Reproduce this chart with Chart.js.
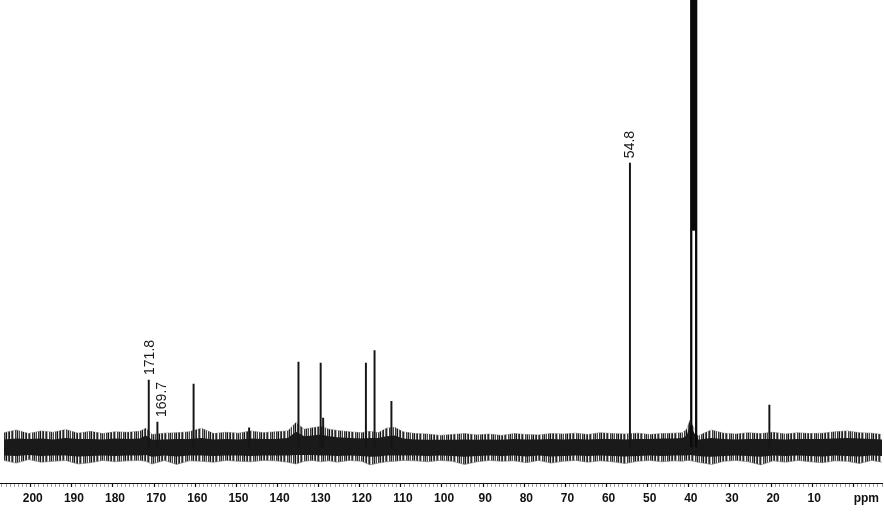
<!DOCTYPE html>
<html>
<head>
<meta charset="utf-8">
<title>13C NMR</title>
<script src="https://cdn.jsdelivr.net/npm/chart.js@4.4.1/dist/chart.umd.min.js"></script>
<style>
  html, body { margin: 0; padding: 0; background: #fff; }
  .wrap { position: relative; width: 884px; height: 512px; }
</style>
</head>
<body>
<div class="wrap"><canvas id="spectrum"></canvas></div>
<script>
// Picos (ppm) y alturas relativas (línea base = 0)
const peakPpm = [171.8, 169.7, 160.9, 147.4, 135.4, 130.0, 129.4, 119.0, 116.9, 112.8, 54.8, 20.9];
const peakHeights = [15.0, 5.6, 14.1, 4.3, 19.0, 18.8, 6.5, 18.8, 21.6, 10.2, 63.5, 9.4];

// Disolvente (DMSO-d6), se sale del gráfico por arriba
const dmsoPpm = [39.9, 39.6, 39.3, 39.0, 38.7];
const dmsoLow = [0, 48.5, 48.5, 48.5, 0];
const dmsoHigh = [150, 150, 150, 150, 150];

// Etiquetas de los picos
const labelPpm = [171.8, 169.7, 54.8];
const labelText = ['171.8', '169.7', '54.8'];

const noisePpm = [
  207, 204, 201, 198, 195, 192, 189, 186, 183, 180,
  177, 174, 172.5, 171, 168, 165, 162, 159, 156, 153,
  150, 147, 144, 141, 138, 136, 134, 132, 130, 128,
  126, 123, 120, 118, 116, 114, 112, 110, 107, 104,
  101, 98, 95, 92, 89, 86, 83, 80, 77, 74,
  71, 68, 65, 62, 59, 56, 53, 50, 47, 44,
  42, 41, 40.2, 38.3, 37, 35, 32, 29, 26, 23,
  20, 17, 14, 11, 8, 5, 2, -1, -4, -6.5
];
const noiseHigh = [
  3.2, 3.8, 3.0, 3.6, 3.3, 3.9, 3.1, 3.5, 3.0, 3.4,
  3.3, 3.5, 4.2, 2.8, 3.1, 3.2, 3.4, 4.2, 3.0, 3.3,
  3.1, 3.6, 3.2, 3.4, 3.6, 5.5, 4.0, 4.3, 4.6, 4.0,
  3.7, 3.4, 3.2, 3.5, 3.2, 4.2, 4.4, 3.4, 3.0, 2.9,
  2.6, 2.8, 3.0, 2.7, 2.9, 2.6, 3.0, 2.8, 2.7, 3.0,
  2.9, 3.1, 2.8, 3.2, 3.0, 2.9, 3.1, 2.8, 3.0, 3.1,
  3.2, 4.0, 6.0, 2.4, 3.0, 3.8, 3.1, 2.9, 3.2, 3.0,
  3.3, 2.9, 3.2, 3.0, 3.1, 3.4, 3.6, 3.2, 3.1, 2.8
];
const noiseLow = [
  -3.0, -3.6, -2.8, -3.4, -3.2, -3.0, -3.8, -3.5, -3.0, -3.3,
  -3.1, -3.0, -3.2, -3.8, -3.0, -3.9, -3.1, -3.2, -3.4, -3.0,
  -3.2, -3.3, -3.0, -3.1, -3.4, -3.8, -3.2, -3.0, -3.3, -3.1,
  -3.4, -3.0, -3.2, -4.0, -3.6, -3.3, -3.2, -3.0, -3.1, -3.3,
  -3.0, -3.2, -3.9, -3.3, -3.0, -3.2, -3.1, -3.5, -3.0, -3.6,
  -3.2, -3.0, -3.4, -3.1, -3.3, -3.7, -3.2, -3.0, -3.3, -3.1,
  -3.2, -3.0, -3.0, -3.4, -3.6, -3.9, -3.2, -3.0, -3.3, -4.0,
  -3.1, -3.4, -3.0, -3.3, -3.5, -3.1, -3.2, -3.7, -3.0, -3.4
];
const noiseCoreHigh = [
  1.7, 1.9, 1.8, 1.9, 1.7, 2.0, 1.8, 1.8, 1.7, 1.9,
  1.8, 1.9, 2.6, 1.6, 1.7, 1.8, 1.8, 2.0, 1.7, 1.8,
  1.7, 1.9, 1.8, 1.8, 2.0, 3.4, 2.4, 2.6, 2.8, 2.4,
  2.2, 2.0, 1.9, 2.0, 2.0, 2.4, 2.6, 1.9, 1.7, 1.6,
  1.6, 1.6, 1.7, 1.6, 1.7, 1.6, 1.8, 1.7, 1.7, 1.8,
  1.7, 1.8, 1.7, 1.8, 1.8, 1.7, 1.8, 1.8, 1.9, 1.9,
  2.0, 2.6, 5.0, 1.6, 1.8, 2.0, 1.8, 1.7, 1.8, 1.8,
  1.8, 1.7, 1.8, 1.8, 1.8, 1.9, 2.0, 1.9, 1.8, 1.7
];
const noiseCoreLow = [
  -1.9, -2.0, -1.8, -2.0, -1.9, -1.9, -2.1, -2.0, -1.9, -2.0,
  -1.9, -1.9, -1.8, -2.2, -1.9, -2.1, -1.9, -1.9, -2.0, -1.9,
  -1.9, -2.0, -1.9, -1.9, -1.9, -1.8, -1.8, -1.8, -1.9, -1.9,
  -2.0, -1.9, -2.0, -2.2, -2.1, -1.9, -1.9, -1.9, -1.9, -2.0,
  -1.9, -2.0, -2.2, -2.0, -1.9, -2.0, -1.9, -2.1, -1.9, -2.1,
  -2.0, -1.9, -2.0, -1.9, -2.0, -2.1, -2.0, -1.9, -2.0, -1.9,
  -1.9, -1.9, -1.8, -2.0, -2.1, -2.2, -2.0, -1.9, -2.0, -2.2,
  -1.9, -2.0, -1.9, -2.0, -2.1, -1.9, -2.0, -2.1, -1.9, -2.0
];

const toPoints = (xs, ys) => xs.map((x, i) => ({ x: x, y: ys[i] }));

// Textura de rayas verticales para el borde del ruido (solo estilo)
function stripePattern() {
  const shades = ['#222', '#bbb', '#444', '#fff', '#333', '#888', '#111', '#ddd',
                  '#555', '#222', '#eee', '#666', '#2a2a2a', '#aaa', '#fff', '#3a3a3a', '#999'];
  const c = document.createElement('canvas');
  c.width = shades.length;
  c.height = 1;
  const g = c.getContext('2d');
  shades.forEach((s, i) => { g.fillStyle = s; g.fillRect(i, 0, 1, 1); });
  return g.createPattern(c, 'repeat');
}

// Etiquetas giradas sobre los picos y la unidad "ppm"
const peakLabelPlugin = {
  id: 'peakLabels',
  afterDatasetsDraw(chart, args, opts) {
    const { ctx, scales: { x, y } } = chart;
    ctx.save();
    ctx.font = '14px "Liberation Sans", Arial, sans-serif';
    ctx.fillStyle = '#1a1a1a';
    ctx.textBaseline = 'middle';
    ctx.textAlign = 'left';
    labelPpm.forEach((p, i) => {
      const h = peakHeights[peakPpm.indexOf(p)];
      const px = x.getPixelForValue(p) + opts.dx[i];
      const py = y.getPixelForValue(h) - opts.gap;
      ctx.save();
      ctx.translate(px, py);
      ctx.rotate(-Math.PI / 2);
      ctx.fillText(labelText[i], 0, 0);
      ctx.restore();
    });
    ctx.font = 'bold 12px "Liberation Sans", Arial, sans-serif';
    ctx.textAlign = 'center';
    ctx.fillStyle = '#111';
    ctx.fillText('ppm', x.getPixelForValue(0) + opts.unitDx, x.top + 16);
    ctx.restore();
  }
};

const bandLine = {
  type: 'line',
  pointRadius: 0,
  borderWidth: 0,
  tension: 0
};

new Chart(document.getElementById('spectrum'), {
  type: 'line',
  data: {
    datasets: [
      {
        type: 'bar',
        label: 'picos',
        data: toPoints(peakPpm, peakHeights),
        backgroundColor: '#151515',
        barThickness: 1.3,
        grouped: false,
        order: 0
      },
      {
        type: 'bar',
        label: 'DMSO',
        data: dmsoPpm.map((x, i) => ({ x: x, y: [dmsoLow[i], dmsoHigh[i]] })),
        backgroundColor: '#0a0a0a',
        barThickness: 1.6,
        grouped: false,
        order: 0
      },
      Object.assign({}, bandLine, {
        label: 'ruido+',
        data: toPoints(noisePpm, noiseHigh),
        borderColor: '#777',
        borderWidth: 0.6,
        fill: false,
        order: 4
      }),
      Object.assign({}, bandLine, {
        label: 'ruido-',
        data: toPoints(noisePpm, noiseLow),
        borderColor: '#777',
        borderWidth: 0.6,
        backgroundColor: stripePattern(),
        fill: '-1',
        order: 3
      }),
      Object.assign({}, bandLine, {
        label: 'nucleo+',
        data: toPoints(noisePpm, noiseCoreHigh),
        fill: false,
        order: 2
      }),
      Object.assign({}, bandLine, {
        label: 'nucleo-',
        data: toPoints(noisePpm, noiseCoreLow),
        backgroundColor: '#1a1a1a',
        fill: '-1',
        order: 1
      })
    ]
  },
  options: {
    responsive: true,
    maintainAspectRatio: false,
    animation: false,
    layout: { padding: 0 },
    plugins: {
      legend: { display: false },
      tooltip: { enabled: false },
      peakLabels: { dx: [1, 5, 0.5], gap: 5, unitDx: 11 }
    },
    scales: {
      x: {
        type: 'linear',
        reverse: true,
        min: -6.6,
        max: 207.8,
        offset: false,
        afterFit: (scale) => { scale.height = 29; },
        border: { display: true, color: '#111', width: 1 },
        grid: {
          drawOnChartArea: false,
          drawTicks: true,
          tickLength: 4,
          tickColor: (c) => (c.tick && c.tick.value % 10 === 0 ? '#111' : '#777'),
          tickWidth: (c) => (c.tick && c.tick.value % 10 === 0 ? 1.2 : 0.7)
        },
        ticks: {
          stepSize: 1,
          autoSkip: false,
          maxRotation: 0,
          includeBounds: false,
          maxTicksLimit: 400,
          padding: 4,
          color: '#111',
          font: { family: '"Liberation Sans", Arial, sans-serif', size: 12, weight: 'bold' },
          callback: (v) => (v % 10 === 0 && v !== 0 ? String(v) : '')
        }
      },
      y: {
        display: false,
        min: -8.05,
        max: 100
      }
    }
  },
  plugins: [peakLabelPlugin]
});
</script>
</body>
</html>
